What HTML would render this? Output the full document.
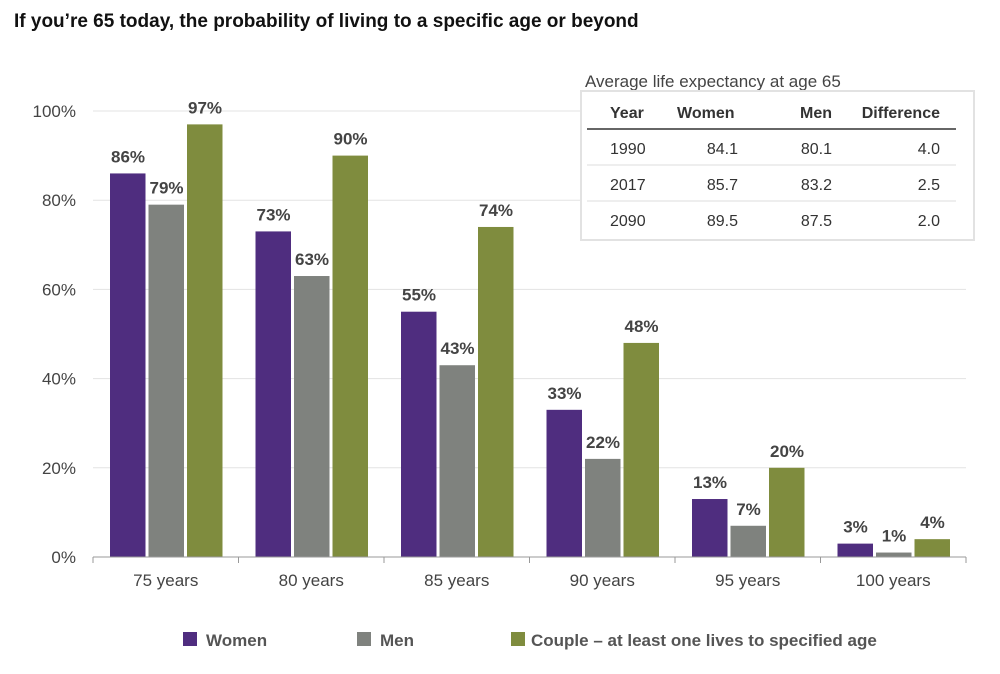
<!DOCTYPE html>
<html><head><meta charset="utf-8"><style>
body{margin:0;background:#fff;font-family:"Liberation Sans",sans-serif}
svg text{font-family:"Liberation Sans",sans-serif}
</style></head><body>
<svg width="1000" height="669" viewBox="0 0 1000 669">
<text x="14" y="27" font-size="19" font-weight="bold" fill="#111">If you’re 65 today, the probability of living to a specific age or beyond</text>
<g id="grid"></g><g id="bars"></g><g id="axis"></g>
<g>
<text x="585" y="87" font-size="17" fill="#444">Average life expectancy at age 65</text>
<rect x="581" y="91" width="393" height="149" fill="#fff" stroke="#e2e2e2" stroke-width="2"/>
<g font-size="16" font-weight="bold" fill="#333">
<text x="610" y="118">Year</text><text x="677" y="118">Women</text><text x="832" y="118" text-anchor="end">Men</text><text x="940" y="118" text-anchor="end">Difference</text></g>
<line x1="587" y1="129" x2="956" y2="129" stroke="#666" stroke-width="2"/>
<line x1="587" y1="165" x2="956" y2="165" stroke="#ddd"/>
<line x1="587" y1="201" x2="956" y2="201" stroke="#ddd"/>
<g id="tbody" font-size="16" fill="#333"></g>
</g>
<g font-size="17" font-weight="bold" fill="#555">
<rect x="183" y="632" width="14" height="14" fill="#4f2d7f"/><text x="206" y="646">Women</text>
<rect x="357" y="632" width="14" height="14" fill="#7f827e"/><text x="380" y="646">Men</text>
<rect x="511" y="632" width="14" height="14" fill="#7f8c3e"/><text x="531" y="646">Couple – at least one lives to specified age</text>
</g>
</svg>
<script>
const categories=["75 years","80 years","85 years","90 years","95 years","100 years"];
const women=[86,73,55,33,13,3];
const men=[79,63,43,22,7,1];
const couple=[97,90,74,48,20,4];
const yTicks=[0,20,40,60,80,100];
const tableRows=[["1990","84.1","80.1","4.0"],["2017","85.7","83.2","2.5"],["2090","89.5","87.5","2.0"]];
const NS="http://www.w3.org/2000/svg";
const x0=93,step=145.5,y0=557,yTop=111;
const y=v=>y0-(v/100)*(y0-yTop);
function mk(t,a,p,txt){const e=document.createElementNS(NS,t);for(const k in a)e.setAttribute(k,a[k]);if(txt!==undefined)e.textContent=txt;document.getElementById(p).appendChild(e);return e;}
yTicks.forEach(t=>{
 if(t>0){const l=mk("line",{x1:x0,x2:x0+6*step,y1:y(t),y2:y(t),stroke:"#e3e3e3"},"grid");
 
 }
 const tx=mk("text",{x:76,y:y(t)+6,"font-size":17,fill:"#444","text-anchor":"end"},"axis",t+"%");
 
 
});
mk("line",{x1:x0,x2:x0+6*step,y1:y0,y2:y0,stroke:"#999"},"axis");
for(let i=0;i<=6;i++)mk("line",{x1:x0+i*step,x2:x0+i*step,y1:y0,y2:y0+6,stroke:"#999"},"axis");
const series=[[women,"#4f2d7f","bar-women"],[men,"#7f827e","bar-men"],[couple,"#7f8c3e","bar-couple"]];
categories.forEach((c,i)=>{
 const cx=x0+i*step;
 const lab=mk("text",{x:cx+step/2,y:y0+29,"font-size":17,fill:"#444","text-anchor":"middle"},"axis",c);
 
 
 series.forEach((s,j)=>{
  const bx=cx+17+j*38.5,v=s[0][i];
  const r=mk("rect",{x:bx,y:y(v),width:35.5,height:y0-y(v),fill:s[1]},"bars");
  
  
  const t=mk("text",{x:bx+18,y:y(v)-11,"font-size":17,"font-weight":"bold",fill:"#444","text-anchor":"middle"},"bars",v+"%");
  
  
 });
});
const cols=[[610,"start"],[738,"end"],[832,"end"],[940,"end"]];
tableRows.forEach((r,i)=>r.forEach((v,k)=>{
 const t=mk("text",{x:cols[k][0],y:154+i*36,"text-anchor":cols[k][1]},"tbody",v);
 
 
}));
</script>
</body></html>
